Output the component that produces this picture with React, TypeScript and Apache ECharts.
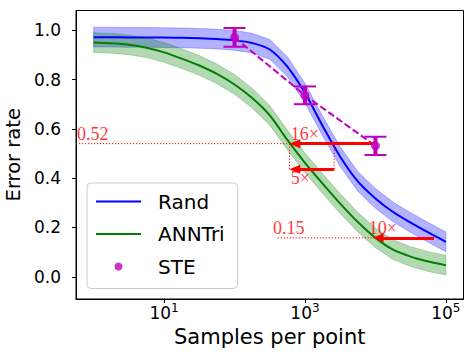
import React, { useEffect, useRef } from "react";
import * as echarts from "echarts";

// ---- data ----
const sampleCounts = [1, 1.778, 3.162, 5.623, 10, 17.78, 31.62, 56.23, 100, 177.8, 316.2, 562.3, 1000, 1778, 3162, 5623, 10000, 17780, 31620, 56230, 100000];
const randError = [0.972, 0.972, 0.971, 0.971, 0.970, 0.969, 0.967, 0.964, 0.959, 0.948, 0.922, 0.852, 0.745, 0.612, 0.487, 0.387, 0.318, 0.263, 0.220, 0.180, 0.142];
const annTriError = [0.950, 0.947, 0.941, 0.929, 0.910, 0.885, 0.857, 0.823, 0.780, 0.725, 0.655, 0.555, 0.462, 0.378, 0.297, 0.222, 0.158, 0.110, 0.082, 0.062, 0.047];
const randSpread = 0.04;
const annTriSpread = 0.04;

const steSamples = [100, 1000, 10000];
const steError = [0.971, 0.736, 0.531];
const steErrBar = [0.038, 0.036, 0.037];

const xTicks = [10, 1000, 100000];
const yTicks = [0, 0.2, 0.4, 0.6, 0.8, 1.0];

// annotation guides (data space)
const guideFrom = [[0.5623, 0.54], [603, 0.54], [2600, 0.54], [410, 0.158]];
const guideTo = [[603, 0.54], [603, 0.436], [2600, 0.436], [9100, 0.158]];
const arrowFromX = [10000, 2600, 68000];
const arrowToX = [718, 718, 10900];
const arrowY = [0.54, 0.436, 0.158];
const noteTexts = ["0.52", "16×", "5×", "0.15", "10×"];
const noteX = [0.59, 641, 641, 356, 8180];
const noteY = [0.54, 0.54, 0.436, 0.158, 0.158];
const noteBelow = [false, false, true, false, false];

const FONT = "'DejaVu Sans', sans-serif";
const SERIF = "'Liberation Serif', 'DejaVu Serif', serif";
const BLUE = "#0000ff";
const GREEN = "#008000";
const MAGENTA = "#bf00bf";
const RED = "#ff0000";

function bandSeries(name: string, values: number[], spread: number, rgba: string) {
  const lows = values.map((v) => v - spread);
  const highs = values.map((v) => v + spread);
  return {
    type: "custom",
    name,
    silent: true,
    z: 1,
    data: sampleCounts.map((x, i) => [x, lows[i], highs[i]]),
    encode: { x: 0, y: [1, 2] },
    renderItem: (params: any, api: any) => {
      if (params.dataIndex !== 0) return null;
      const upper = sampleCounts.map((x, i) => api.coord([x, highs[i]]));
      const lower = sampleCounts.map((x, i) => api.coord([x, lows[i]])).reverse();
      return {
        type: "polygon",
        shape: { points: upper.concat(lower) },
        style: { fill: rgba, stroke: rgba, lineWidth: 0.8 },
      };
    },
  };
}

export default function App() {
  const ref = useRef<HTMLDivElement>(null);

  useEffect(() => {
    document.body.style.margin = "0";
    if (!ref.current) return;
    const chart = echarts.init(ref.current, null, { renderer: "svg" });

    const guideSeries = guideFrom.map((f, i) => ({
      type: "line",
      name: "_guide" + i,
      data: [f, guideTo[i]],
      symbol: "none",
      silent: true,
      z: 7,
      lineStyle: { color: RED, width: 1, type: [1.2, 1.8] },
    }));

    const option: any = {
      animation: false,
      backgroundColor: "#ffffff",
      grid: {
        left: 76,
        right: 10.5,
        top: 10.5,
        bottom: 65,
        show: true,
        borderColor: "#000",
        borderWidth: 1,
        containLabel: false,
        outerBoundsMode: "none",
      },
      legend: {
        orient: "vertical",
        left: 87,
        top: 183,
        data: [
          { name: "Rand", itemStyle: { opacity: 0 } },
          { name: "ANNTri", itemStyle: { opacity: 0 } },
          { name: "STE", icon: "circle" },
        ],
        itemWidth: 45,
        itemHeight: 8,
        itemGap: 12.5,
        padding: [8.5, 13, 12, 8],
        borderColor: "#cccccc",
        borderWidth: 1,
        borderRadius: 4,
        backgroundColor: "rgba(255,255,255,0.8)",
        selectedMode: false,
        textStyle: { fontFamily: FONT, fontSize: 20, color: "#000", lineHeight: 20, padding: [0, 0, 0, 12] },
      },
      xAxis: {
        type: "log",
        logBase: 10,
        min: 0.5623,
        max: 177828,
        name: "Samples per point",
        nameLocation: "middle",
        nameGap: 23,
        nameTextStyle: { fontFamily: FONT, fontSize: 21, color: "#000" },
        axisLine: { show: true, onZero: false, lineStyle: { color: "#000", width: 1 } },
        axisTick: { show: true, inside: false, length: 4, lineStyle: { color: "#000", width: 1 }, customValues: xTicks },
        minorTick: { show: false },
        splitLine: { show: false },
        axisLabel: {
          customValues: xTicks,
          margin: 2.5,
          formatter: (v: number) => `{b|10}{e|${Math.round(Math.log10(v))}}`,
          rich: {
            b: { fontFamily: FONT, fontSize: 17, color: "#000", lineHeight: 20, verticalAlign: "bottom" },
            e: { fontFamily: FONT, fontSize: 12, color: "#000", lineHeight: 14, verticalAlign: "top" },
          },
        },
      },
      yAxis: {
        type: "value",
        min: -0.09,
        max: 1.08,
        name: "Error rate",
        nameLocation: "middle",
        nameGap: 50,
        nameTextStyle: { fontFamily: FONT, fontSize: 19.5, color: "#000" },
        axisLine: { show: true, onZero: false, lineStyle: { color: "#000", width: 1 } },
        axisTick: { show: true, inside: false, length: 4, lineStyle: { color: "#000", width: 1 }, customValues: yTicks },
        splitLine: { show: false },
        axisLabel: {
          customValues: yTicks,
          margin: 15,
          fontFamily: FONT,
          fontSize: 17,
          color: "#000",
          formatter: (v: number) => v.toFixed(1),
        },
      },
      series: [
        bandSeries("_randBand", randError, randSpread, "rgba(0,0,255,0.3)"),
        bandSeries("_annBand", annTriError, annTriSpread, "rgba(0,128,0,0.3)"),
        {
          type: "line",
          name: "Rand",
          data: sampleCounts.map((x, i) => [x, randError[i]]),
          symbol: "none",
          smooth: 0.3,
          z: 3,
          color: BLUE,
          lineStyle: { color: BLUE, width: 2 },
        },
        {
          type: "line",
          name: "ANNTri",
          data: sampleCounts.map((x, i) => [x, annTriError[i]]),
          symbol: "none",
          smooth: 0.3,
          z: 3,
          color: GREEN,
          lineStyle: { color: GREEN, width: 2 },
        },
        {
          type: "line",
          name: "_steLine",
          data: steSamples.map((x, i) => [x, steError[i]]),
          symbol: "none",
          z: 4,
          lineStyle: { color: MAGENTA, width: 2, type: [7, 3] },
        },
        {
          type: "custom",
          name: "_steErr",
          data: steSamples.map((x, i) => [x, steError[i], steErrBar[i]]),
          encode: { x: 0, y: 1 },
          z: 5,
          silent: true,
          clip: false,
          renderItem: (params: any, api: any) => {
            const x = api.value(0);
            const y = api.value(1);
            const e = api.value(2);
            const top = api.coord([x, y + e]);
            const bot = api.coord([x, y - e]);
            const hw = 11;
            const capStyle = { stroke: MAGENTA, lineWidth: 2 };
            return {
              type: "group",
              children: [
                { type: "line", shape: { x1: top[0], y1: top[1], x2: bot[0], y2: bot[1] }, style: { stroke: MAGENTA, lineWidth: 4 } },
                { type: "line", shape: { x1: top[0] - hw, y1: top[1], x2: top[0] + hw, y2: top[1] }, style: capStyle },
                { type: "line", shape: { x1: bot[0] - hw, y1: bot[1], x2: bot[0] + hw, y2: bot[1] }, style: capStyle },
              ],
            };
          },
        },
        {
          type: "scatter",
          name: "STE",
          data: steSamples.map((x, i) => [x, steError[i]]),
          symbol: "circle",
          symbolSize: 9,
          z: 6,
          color: MAGENTA,
          itemStyle: { color: MAGENTA },
        },
        ...guideSeries,
        {
          type: "line",
          name: "_arrows",
          data: [],
          z: 8,
          markLine: {
            silent: true,
            animation: false,
            symbol: ["none", "triangle"],
            symbolSize: [9, 11],
            label: { show: false },
            emphasis: { disabled: true },
            lineStyle: { color: RED, width: 3, type: "solid" },
            itemStyle: { color: RED },
            data: arrowFromX.map((x0, i) => [
              { coord: [x0, arrowY[i]] },
              { coord: [arrowToX[i], arrowY[i]] },
            ]),
          },
        },
        {
          type: "scatter",
          name: "_notes",
          symbolSize: 1,
          z: 9,
          silent: true,
          itemStyle: { color: "transparent" },
          data: noteTexts.map((t, i) => ({
            value: [noteX[i], noteY[i]],
            name: t,
            label: { verticalAlign: noteBelow[i] ? "top" : "bottom" },
          })),
          label: {
            show: true,
            position: [0, 0],
            align: "left",
            formatter: "{b}",
            fontFamily: SERIF,
            fontSize: 18,
            lineHeight: 18,
            color: RED,
          },
        },
      ],
    };

    chart.setOption(option);
    return () => chart.dispose();
  }, []);

  return <div ref={ref} style={{ width: 474, height: 364 }} />;
}
